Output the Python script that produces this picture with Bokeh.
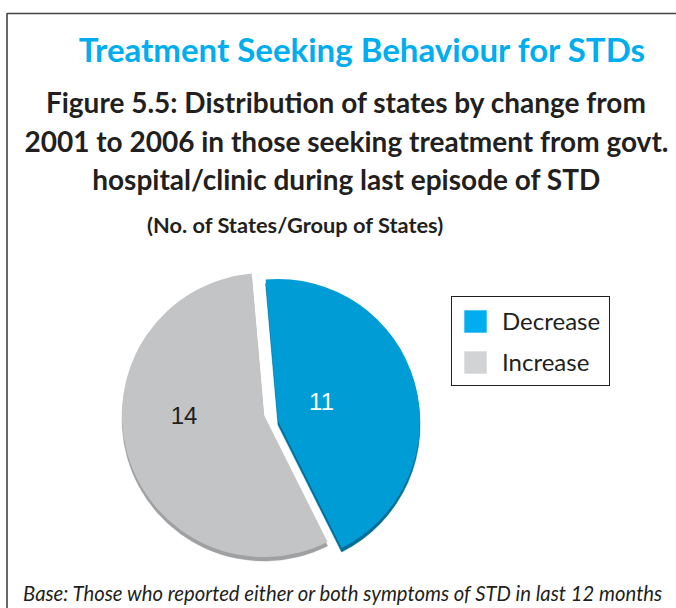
import math
from bokeh.plotting import figure
from bokeh.models import Range1d, Legend, LegendItem, ColumnDataSource
from bokeh.core.properties import value
from bokeh.embed import file_html
from bokeh.resources import INLINE

# ---------------- data ----------------
categories = ["Decrease", "Increase"]
counts = [11, 14]
base_colors = ["#00AEEF", "#D1D3D4"]     # legend / base colours
shade_alpha = [0.10, 0.067]              # darkening of the pie's top face
rim_colors = ["#006E96", "#9FA0A2"]
label_colors = ["#FFFFFF", "#231F20"]

title_text = "Treatment Seeking Behaviour for STDs"
subtitle_lines = [
    "Figure 5.5: Distribution of states by change from",
    "2001 to 2006 in those seeking treatment from govt.",
    "hospital/clinic during last episode of STD",
]
unit_text = "(No. of States/Group of States)"
footer_text = "Base: Those who reported either or both symptoms of STD in last 12 months"

# ---------------- layout ----------------
W, H = 676, 608


def X(px):
    return px


def Y(py):
    return H - py


FONT = "Lato"
DARK = "#231F20"

p = figure(width=W, height=H, x_range=Range1d(0, W), y_range=Range1d(0, H),
           output_backend="svg", toolbar_location=None, min_border=0,
           x_axis_type=None, y_axis_type=None)
p.outline_line_color = None
p.background_fill_color = "white"
p.border_fill_color = "white"

# frame lines (top and left)
p.line(x=[X(6.5), X(6.5), W], y=[0, Y(13), Y(13)], line_color="#444444", line_width=1.6)

# titles
p.text(x=[X(362)], y=[Y(48)], text=[title_text], text_font=value(FONT),
       text_font_style="bold", text_font_size="33px", text_color="#00AEEF",
       text_align="center", text_baseline="middle")
sub_y = [101, 140, 178]
p.text(x=[X(346)] * 3, y=[Y(v) for v in sub_y], text=subtitle_lines,
       text_font=value(FONT), text_font_style="bold", text_font_size="28px",
       text_color=DARK, text_align="center", text_baseline="middle")
p.text(x=[X(295)], y=[Y(224)], text=[unit_text], text_font=value(FONT),
       text_font_style="bold", text_font_size="21.8px", text_color=DARK,
       text_align="center", text_baseline="middle")
p.text(x=[X(343)], y=[Y(592)], text=[footer_text], text_font=value(FONT),
       text_font_style="italic", text_font_size="20.3px", text_color=DARK,
       text_align="center", text_baseline="middle")

# ---------------- pie ----------------
cx, cy = X(263.5), Y(414.5)
R = 142
rim = 4
start_deg = 95.0
explode = [(14, -6), (0, 0)]
label_r = [47.5, 80]
label_ang = [23.6, 180.5]

total = float(sum(counts))
dec_span = 2 * math.pi * counts[0] / total
inc_span = 2 * math.pi * counts[1] / total
s0 = math.radians(start_deg)
starts = [s0 - dec_span, s0]
ends = [s0, s0 + inc_span]
xs = [cx + e[0] for e in explode]
ys = [cy + e[1] for e in explode]

rim_src = ColumnDataSource(dict(x=xs, y=[v - rim for v in ys], start=starts, end=ends, color=rim_colors))
top_src = ColumnDataSource(dict(x=xs, y=ys, start=starts, end=ends, color=base_colors, cat=categories))
shade_src = ColumnDataSource(dict(x=xs, y=ys, start=starts, end=ends, alpha=shade_alpha))

p.wedge(x="x", y="y", radius=R, start_angle="start", end_angle="end",
        fill_color="color", line_color="color", line_width=0.5, source=rim_src)
top_r = p.wedge(x="x", y="y", radius=R, start_angle="start", end_angle="end",
                fill_color="color", line_color=None, source=top_src)
p.wedge(x="x", y="y", radius=R, start_angle="start", end_angle="end",
        fill_color="black", fill_alpha="alpha", line_color=None, source=shade_src)

lx = [xs[i] + label_r[i] * math.cos(math.radians(label_ang[i])) for i in range(2)]
ly = [ys[i] + label_r[i] * math.sin(math.radians(label_ang[i])) for i in range(2)]
p.text(x=lx, y=ly, text=[str(c) for c in counts], text_color=label_colors,
       text_font=value("Liberation Sans"), text_font_size="24px",
       text_align="center", text_baseline="middle")

# ---------------- legend ----------------
items = [LegendItem(label=cat, renderers=[top_r], index=i) for i, cat in enumerate(categories)]
legend = Legend(items=items, location=(X(451), Y(386)), orientation="vertical",
                border_line_color=DARK, border_line_width=1.5, border_line_alpha=1.0,
                background_fill_color="white", background_fill_alpha=1.0,
                padding=9, spacing=12, margin=0, glyph_width=28, glyph_height=28,
                label_standoff=13, label_text_font=FONT, label_text_font_size="24px",
                label_text_color=DARK)
p.add_layout(legend)

open("out.html", "w").write(file_html(p, INLINE))
